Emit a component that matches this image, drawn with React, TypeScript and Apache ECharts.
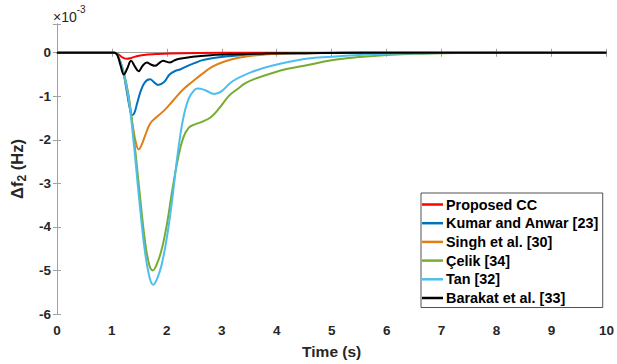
import React, { useEffect, useRef } from "react";
import * as echarts from "echarts";

const seriesNames = [
  "Proposed CC",
  "Kumar and Anwar [23]",
  "Singh et al. [30]",
  "Çelik [34]",
  "Tan [32]",
  "Barakat et al. [33]",
];
const seriesColors = ["#FF0000", "#0072BD", "#DE8018", "#77AC30", "#4DBEEE", "#000000"];

const xTicks = [0, 1, 2, 3, 4, 5, 6, 7, 8, 9, 10];
const yTicks = [0, -1, -2, -3, -4, -5, -6];

const tProposed = [0, 1.05, 1.12, 1.2, 1.28, 1.35, 1.45, 1.58, 1.8, 2.05, 2.6, 3.5, 10];
const vProposed = [0, 0, -0.04, -0.11, -0.14, -0.12, -0.08, -0.05, -0.03, -0.015, -0.005, 0, 0];

const tKumar = [0, 1.05, 1.1, 1.2, 1.28, 1.33, 1.37, 1.41, 1.46, 1.52, 1.6, 1.695, 1.77, 1.84, 1.95, 2.05, 2.15, 2.25, 2.38, 2.5, 2.65, 2.85, 3.07, 3.4, 3.73, 4.5, 5.2, 10];
const vKumar = [0, 0, -0.05, -0.4, -0.95, -1.3, -1.43, -1.38, -1.16, -0.9, -0.68, -0.61, -0.68, -0.74, -0.67, -0.5, -0.42, -0.38, -0.3, -0.24, -0.17, -0.12, -0.085, -0.05, -0.03, -0.01, 0, 0];

const tSingh = [0, 1.05, 1.1, 1.2, 1.3, 1.38, 1.44, 1.49, 1.54, 1.6, 1.7, 1.82, 1.95, 2.1, 2.3, 2.47, 2.65, 2.83, 3.05, 3.31, 3.79, 4.5, 5.2, 10];
const vSingh = [0, 0, -0.05, -0.4, -1.0, -1.68, -2.08, -2.22, -2.12, -1.92, -1.62, -1.47, -1.33, -1.12, -0.84, -0.66, -0.48, -0.32, -0.2, -0.115, -0.04, -0.01, 0, 0];

const tCelik = [0, 1.05, 1.1, 1.2, 1.3, 1.4, 1.5, 1.6, 1.68, 1.745, 1.81, 1.9, 2.0, 2.1, 2.2, 2.3, 2.4, 2.5, 2.65, 2.8, 2.95, 3.13, 3.3, 3.43, 3.6, 3.91, 4.2, 4.5, 5.0, 5.5, 6.0, 6.5, 7.0, 8.0, 10];
const vCelik = [0, 0, -0.05, -0.38, -0.95, -1.95, -3.15, -4.3, -4.87, -5.0, -4.88, -4.55, -3.95, -3.15, -2.45, -1.95, -1.72, -1.65, -1.58, -1.48, -1.28, -0.99, -0.82, -0.7, -0.6, -0.47, -0.37, -0.3, -0.17, -0.1, -0.05, -0.025, -0.01, 0, 0];

const tTan = [0, 1.05, 1.1, 1.2, 1.3, 1.4, 1.5, 1.6, 1.69, 1.755, 1.82, 1.9, 2.0, 2.1, 2.2, 2.3, 2.4, 2.5, 2.56, 2.7, 2.86, 3.0, 3.19, 3.55, 3.91, 4.5, 5.0, 5.5, 6.0, 7.0, 8.0, 10];
const vTan = [0, 0, -0.05, -0.4, -1.0, -2.1, -3.4, -4.55, -5.18, -5.33, -5.2, -4.9, -4.25, -3.35, -2.3, -1.5, -1.05, -0.86, -0.82, -0.86, -0.95, -0.88, -0.66, -0.44, -0.3, -0.145, -0.09, -0.05, -0.025, -0.005, 0, 0];

const tBarakat = [0, 1.05, 1.1, 1.16, 1.218, 1.28, 1.35, 1.42, 1.485, 1.56, 1.635, 1.71, 1.785, 1.86, 1.935, 2.0, 2.05, 2.13, 2.23, 2.47, 2.8, 3.2, 3.8, 4.5, 5.5, 10];
const vBarakat = [0, 0, -0.05, -0.3, -0.5, -0.36, -0.185, -0.32, -0.425, -0.3, -0.225, -0.27, -0.3, -0.24, -0.185, -0.21, -0.225, -0.18, -0.14, -0.09, -0.055, -0.035, -0.02, -0.01, 0, 0];

const allT = [tProposed, tKumar, tSingh, tCelik, tTan, tBarakat];
const allV = [vProposed, vKumar, vSingh, vCelik, vTan, vBarakat];

const FONT = "'Liberation Sans', Arial, sans-serif";

export default function App() {
  const ref = useRef<HTMLDivElement>(null);
  useEffect(() => {
    if (!ref.current) return;
    const chart = echarts.init(ref.current, undefined, { renderer: "svg" });
    const axisLineColor = "#a0a0a0";
    const xMin = xTicks[0];
    const xMax = xTicks[xTicks.length - 1];
    const yMin = yTicks[yTicks.length - 1];
    const yMax = 0.66;
    const series = seriesNames.map((name, i) => ({
      name,
      type: "line",
      data: allT[i].map((t, j) => [t, allV[i][j]]),
      showSymbol: false,
      smooth: 0.4,
      lineStyle: { color: seriesColors[i], width: 2 },
      itemStyle: { color: seriesColors[i] },
      xAxisIndex: 0,
      yAxisIndex: 0,
    }));
    chart.setOption({
      animation: false,
      backgroundColor: "#ffffff",
      textStyle: { fontFamily: FONT },
      grid: { left: 52, top: 24, width: 557, height: 290, containLabel: false },
      xAxis: [
        {
          type: "value",
          min: xMin,
          max: xMax,
          interval: 1,
          name: "Time (s)",
          nameLocation: "middle",
          nameGap: 29,
          nameTextStyle: { fontFamily: FONT, fontSize: 15.5, fontWeight: "bold", color: "#262626" },
          axisLine: { show: true, lineStyle: { color: axisLineColor, width: 1 } },
          axisTick: { show: true, inside: true, length: 4, lineStyle: { color: axisLineColor } },
          axisLabel: { fontFamily: FONT, fontSize: 13.5, fontWeight: "bold", color: "#262626", margin: 9 },
          splitLine: { show: false },
        },
        {
          type: "value",
          position: "top",
          min: xMin,
          max: xMax,
          interval: 1,
          axisLine: { show: true, lineStyle: { color: axisLineColor, width: 1 } },
          axisTick: { show: true, inside: true, length: 4, lineStyle: { color: axisLineColor } },
          axisLabel: { show: false },
          splitLine: { show: false },
        },
      ],
      yAxis: [
        {
          type: "value",
          min: yMin,
          max: yMax,
          interval: 1,
          name: "{b|Δf}{s|2}{b| (Hz)}",
          nameLocation: "middle",
          nameGap: 27,
          nameTextStyle: {
            rich: {
              b: { fontFamily: FONT, fontSize: 16.5, fontWeight: "bold", color: "#262626", lineHeight: 22 },
              s: { fontFamily: FONT, fontSize: 12, fontWeight: "bold", color: "#262626", lineHeight: 22, verticalAlign: "bottom", padding: [8, 0, 0, 0] },
            },
          },
          axisLine: { show: true, lineStyle: { color: axisLineColor, width: 1 } },
          axisTick: { show: true, inside: true, length: 4, lineStyle: { color: axisLineColor } },
          axisLabel: {
            fontFamily: FONT,
            fontSize: 13.5,
            fontWeight: "bold",
            color: "#262626",
            margin: 6,
            formatter: (v: number) => (Math.abs(v - Math.round(v)) < 1e-6 ? String(Math.round(v)) : ""),
          },
          splitLine: { show: false },
        },
        {
          type: "value",
          position: "right",
          min: yMin,
          max: yMax,
          interval: 1,
          axisLine: { show: true, lineStyle: { color: axisLineColor, width: 1 } },
          axisTick: { show: true, inside: true, length: 4, lineStyle: { color: axisLineColor } },
          axisLabel: { show: false },
          splitLine: { show: false },
        },
      ],
      legend: {
        data: seriesNames,
        orient: "vertical",
        left: 421,
        top: 193,
        icon: "rect",
        itemWidth: 21,
        itemHeight: 2.5,
        itemGap: 3.7,
        padding: [4, 4, 2, 1],
        borderColor: "#262626",
        borderWidth: 0.8,
        backgroundColor: "#ffffff",
        textStyle: { fontFamily: FONT, fontSize: 14.4, fontWeight: "bold", color: "#000000", lineHeight: 15, padding: [0, 0, 0, -2] },
      },
      graphic: [
        {
          type: "text",
          left: 53,
          top: 4,
          style: {
            text: "{a|×10}{e|-3}",
            rich: {
              a: { fontFamily: FONT, fontSize: 14, fill: "#262626", lineHeight: 20, verticalAlign: "bottom" },
              e: { fontFamily: FONT, fontSize: 10, fill: "#262626", lineHeight: 20, verticalAlign: "top" },
            },
          },
        },
      ],
      series,
    });
    return () => chart.dispose();
  }, []);
  return (
    <div
      ref={ref}
      style={{ position: "fixed", left: 0, top: 0, width: 617, height: 364, background: "#fff" }}
    />
  );
}
